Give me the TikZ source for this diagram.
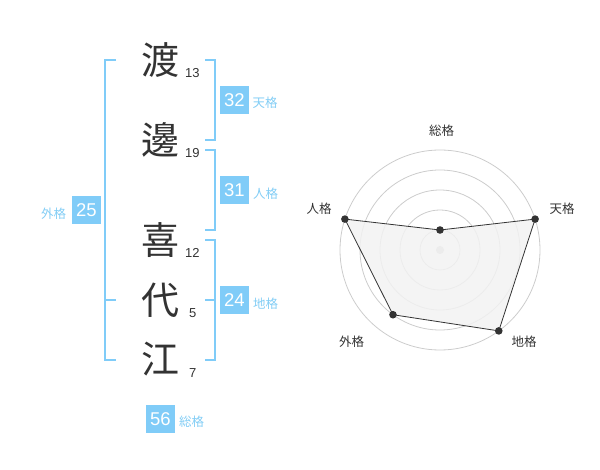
\documentclass[tikz,border=0pt]{standalone}
\usepackage{fontspec}
\setmainfont{Liberation Sans}
\newfontfamily\jp{Noto Sans CJK JP}
\usepackage{xcolor}
\definecolor{kakublue}{RGB}{128,204,248}
\definecolor{kakutxt}{RGB}{130,205,245}
\definecolor{moji}{RGB}{51,51,51}
\definecolor{webgray}{RGB}{204,204,204}
\tikzset{
	kanji/.style={font=\jp\fontsize{38}{38}\selectfont, text=moji, inner sep=0pt},
	kakusu/.style={font=\fontsize{13}{13}\selectfont, text=moji, inner sep=0pt},
	kakubox/.style={fill=kakublue, text=white, minimum width=29pt, minimum height=28pt, inner sep=0pt, font=\fontsize{18.5}{18.5}\selectfont},
	kakuname/.style={font=\jp\fontsize{12.5}{12.5}\selectfont, text=kakutxt, inner sep=0pt},
	bracket/.style={draw=kakublue, line width=2pt},
	axisname/.style={font=\jp\fontsize{12.5}{12.5}\selectfont, text=moji, inner sep=0pt}
}
\begin{document}
\begin{tikzpicture}[x=1pt,y=-1pt]
	\useasboundingbox (0,0) rectangle (600,470);
	% name
	\node[kanji] (k1) at (160,60) {渡};
	\node[kanji] (k2) at (160,140) {邊};
	\node[kanji] (k3) at (160,240) {喜};
	\node[kanji] (k4) at (160,300) {代};
	\node[kanji] (k5) at (160,359) {江};
	\node[kakusu] (n1) at (192.3,73) {13};
	\node[kakusu] (n2) at (192.3,153) {19};
	\node[kakusu] (n3) at (192.3,253) {12};
	\node[kakusu] (n4) at (192.7,313) {5};
	\node[kakusu] (n5) at (192.7,373) {7};
	% brackets
	\draw[bracket] (205,60) -- (215,60) -- (215,140) -- (205,140);
	\draw[bracket] (205,150) -- (215,150) -- (215,230) -- (205,230);
	\draw[bracket] (205,240) -- (215,240) -- (215,360) -- (205,360);
	\draw[bracket] (205,300) -- (215,300);
	\draw[bracket] (116,60) -- (105,60) -- (105,360) -- (116,360);
	\draw[bracket] (105,300) -- (116,300);
	% boxes
	\node[kakubox] (ten) at (234.5,100) {32};
	\node[kakuname] at (265,103) {天格};
	\node[kakubox] (jin) at (234.5,190.5) {31};
	\node[kakuname] at (265.5,194) {人格};
	\node[kakubox] (chi) at (234.5,300.5) {24};
	\node[kakuname] at (265.5,304) {地格};
	\node[kakubox] (gai) at (86.5,210.5) {25};
	\node[kakuname] at (53.5,214) {外格};
	\node[kakubox] (sou) at (160.5,419) {56};
	\node[kakuname] at (191.5,422) {総格};
	% chart
	\coordinate (c) at (440,250);
	\foreach \r in {20,40,60,80,100}{
		\draw[webgray, line width=0.8pt] (c) circle (\r);
	}
	\fill[webgray] (c) circle (4);
	\path (c) ++(-90:20) coordinate (psou);
	\path (c) ++(-18:100) coordinate (pten);
	\path (c) ++(54:100) coordinate (pchi);
	\path (c) ++(126:80) coordinate (pgai);
	\path (c) ++(198:100) coordinate (pjin);
	\filldraw[fill=black!5, draw=moji, line width=0.8pt, fill opacity=0.85] (psou) -- (pten) -- (pchi) -- (pgai) -- (pjin) -- cycle;
	\foreach \p in {psou,pten,pchi,pgai,pjin}{
		\fill[moji] (\p) circle (3.8);
	}
	\node[axisname] (lsou) at (441.5,131) {総格};
	\node[axisname] (lten) at (562,209) {天格};
	\node[axisname] (ljin) at (319,209) {人格};
	\node[axisname] (lgai) at (351.5,342) {外格};
	\node[axisname] (lchi) at (524,342) {地格};
\end{tikzpicture}
\end{document}
